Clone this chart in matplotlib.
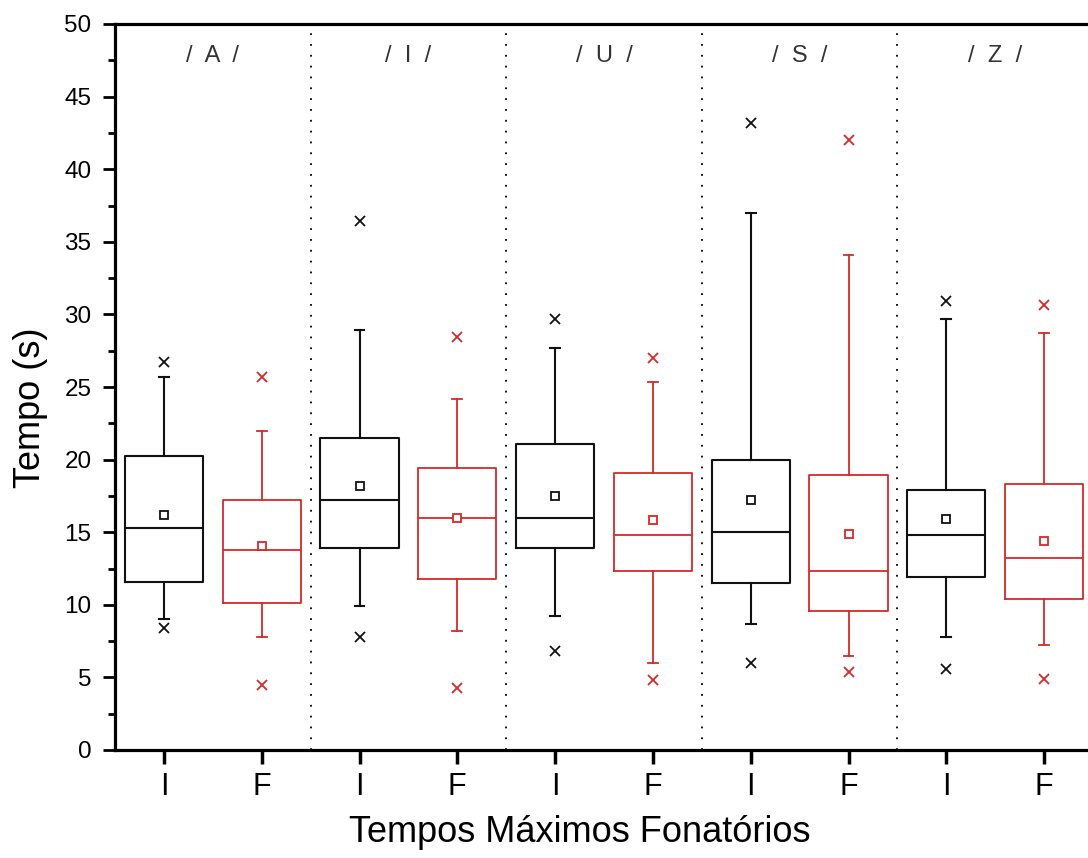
import matplotlib
matplotlib.use("Agg")
import matplotlib.pyplot as plt
from matplotlib.ticker import MultipleLocator

plt.rcParams["font.family"] = ["Liberation Sans", "DejaVu Sans"]

# 每组: /A/ /I/ /U/ /S/ /Z/ ; I = 初始, F = 最终
groups = ["/  A  /", "/  I  /", "/  U  /", "/  S  /", "/  Z  /"]
tick_labels = ["I", "F"]

whislo_i = [9.0, 9.9, 9.2, 8.7, 7.8]
q1_i = [11.6, 13.9, 13.9, 11.5, 11.9]
med_i = [15.3, 17.2, 16.0, 15.0, 14.8]
q3_i = [20.25, 21.5, 21.1, 19.95, 17.9]
whishi_i = [25.7, 28.9, 27.7, 37.0, 29.7]
mean_i = [16.2, 18.2, 17.5, 17.2, 15.9]
out_lo_i = [8.4, 7.8, 6.8, 6.0, 5.6]
out_hi_i = [26.7, 36.4, 29.7, 43.2, 30.9]

whislo_f = [7.8, 8.2, 6.0, 6.5, 7.2]
q1_f = [10.1, 11.8, 12.3, 9.6, 10.4]
med_f = [13.8, 15.95, 14.8, 12.3, 13.2]
q3_f = [17.25, 19.45, 19.05, 18.95, 18.35]
whishi_f = [22.0, 24.2, 25.35, 34.1, 28.75]
mean_f = [14.05, 16.0, 15.85, 14.9, 14.4]
out_lo_f = [4.5, 4.25, 4.8, 5.4, 4.9]
out_hi_f = [25.7, 28.45, 27.0, 42.0, 30.65]

BLACK = "#111111"
RED = "#d42a2a"


def make_stats(lo, q1, med, q3, hi, mean, olo, ohi):
    return [
        dict(whislo=lo[k], q1=q1[k], med=med[k], q3=q3[k], whishi=hi[k],
             mean=mean[k], fliers=[olo[k], ohi[k]])
        for k in range(len(lo))
    ]


stats_i = make_stats(whislo_i, q1_i, med_i, q3_i, whishi_i, mean_i, out_lo_i, out_hi_i)
stats_f = make_stats(whislo_f, q1_f, med_f, q3_f, whishi_f, mean_f, out_lo_f, out_hi_f)

n = len(groups)
pos_i = [2 * k + 1 for k in range(n)]
pos_f = [2 * k + 2 for k in range(n)]

fig = plt.figure(figsize=(10.88, 8.58), dpi=100)
ax = fig.add_axes([115 / 1088, 108 / 858, 978 / 1088, 726 / 858])


def draw(stats, pos, color, lw):
    ax.bxp(
        stats, positions=pos, widths=0.8, capwidths=0.1, showmeans=True,
        boxprops=dict(color=color, linewidth=lw),
        medianprops=dict(color=color, linewidth=lw),
        whiskerprops=dict(color=color, linewidth=lw),
        capprops=dict(color=color, linewidth=lw),
        flierprops=dict(marker="x", markeredgecolor=color, markersize=7,
                        markeredgewidth=1.3, linestyle="none"),
        meanprops=dict(marker="s", markerfacecolor="white", markeredgecolor=color,
                       markersize=6, markeredgewidth=1.3),
    )


draw(stats_i, pos_i, BLACK, 1.5)
draw(stats_f, pos_f, RED, 1.3)

for k in range(1, n):
    ax.axvline(2 * k + 0.5, color="black", linestyle=(0, (1, 5)), linewidth=1.3)

for k, g in enumerate(groups):
    ax.text(2 * k + 1.5, 47.8, g, ha="center", va="center", fontsize=17, color="#333333")

ax.set_xlim(0.5, 10.5)
ax.set_ylim(0, 50)
ax.set_xticks(pos_i + pos_f)
ax.set_xticklabels([tick_labels[0]] * n + [tick_labels[1]] * n, fontsize=22)
ax.yaxis.set_major_locator(MultipleLocator(5))
ax.yaxis.set_minor_locator(MultipleLocator(2.5))
ax.tick_params(axis="y", which="major", length=8.5, width=2, labelsize=17.5, pad=8.5)
ax.tick_params(axis="y", which="minor", length=5, width=2)
ax.tick_params(axis="x", which="major", length=10, width=2.5, pad=6)

for side in ["left", "bottom", "top"]:
    ax.spines[side].set_linewidth(2.3)
ax.spines["right"].set_visible(False)

ax.set_ylabel("Tempo (s)", fontsize=26)
ax.set_xlabel("Tempos Máximos Fonatórios", fontsize=26)
ax.yaxis.set_label_coords(-0.069, 0.472)
ax.xaxis.set_label_coords(0.475, -0.089)

fig.savefig("out.png", dpi=100)
